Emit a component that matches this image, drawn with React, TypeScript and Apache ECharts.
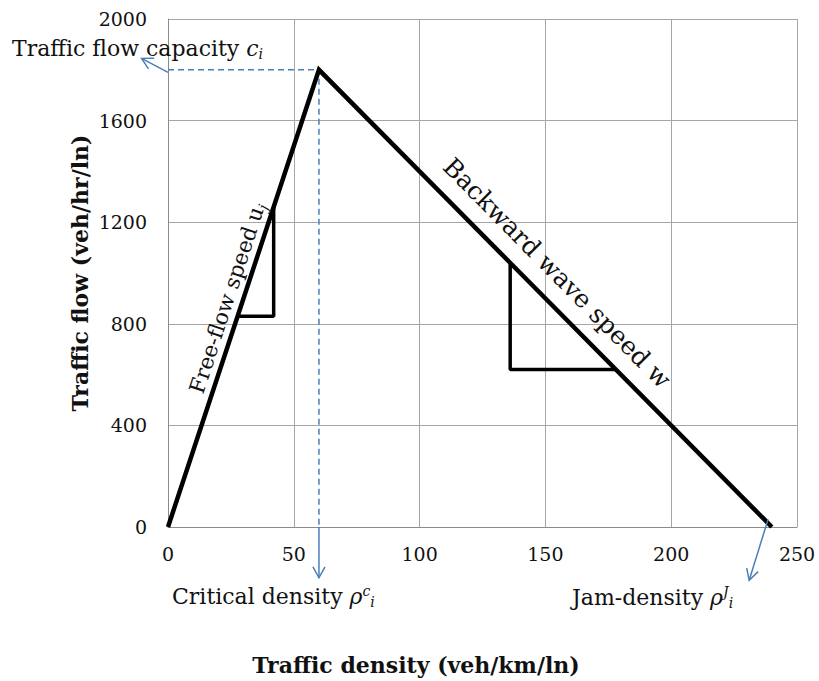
import React, { useEffect, useRef } from "react";
import * as echarts from "echarts";

// ---- data ----
const densityTicks = [0, 50, 100, 150, 200, 250];
const flowTicks = [0, 400, 800, 1200, 1600, 2000];

const fdDensity = [0, 60, 240];
const fdFlow = [0, 1800, 0];

const freeTriDensity = [42, 42, 28];
const freeTriFlow = [1260, 830, 830];

const backTriDensity = [136, 136, 178];
const backTriFlow = [1040, 620, 620];

const guideDensity = [0, 60, 60];
const guideFlow = [1800, 1800, 0];

// arrows: [fromDensity, fromFlow, toDensity, toFlow]
const capacityArrow = [0, 1790, -10.5, 1845];
const criticalArrow = [60, 0, 60, -200];
const jamArrow = [238.5, 30, 231, -210];

const FONT = "DejaVu Serif";
const BLUE = "#4a7ebb";

const zip = (xs: number[], ys: number[]) => xs.map((x, i) => [x, ys[i]]);

export default function App() {
  const ref = useRef<HTMLDivElement>(null);
  useEffect(() => {
    const chart = echarts.init(ref.current!, null, { renderer: "svg" });
    chart.setOption({
      animation: false,
      grid: { left: 168, right: 22, top: 19, bottom: 154 },
      xAxis: {
        type: "value",
        min: densityTicks[0],
        max: densityTicks[densityTicks.length - 1],
        interval: densityTicks[1] - densityTicks[0],
        axisLine: { show: true, lineStyle: { color: "#8c8c8c", width: 1 } },
        axisTick: { show: false },
        axisLabel: { color: "#111", fontFamily: FONT, fontSize: 19, margin: 17, formatter: (v: number) => String(v) },
        splitLine: { show: true, lineStyle: { color: "#a6a6a6", width: 1 } },
      },
      yAxis: {
        type: "value",
        min: flowTicks[0],
        max: flowTicks[flowTicks.length - 1],
        interval: flowTicks[1] - flowTicks[0],
        axisLine: { show: true, lineStyle: { color: "#8c8c8c", width: 1 } },
        axisTick: { show: false },
        axisLabel: { color: "#111", fontFamily: FONT, fontSize: 19, margin: 21, formatter: (v: number) => String(v) },
        splitLine: { show: true, lineStyle: { color: "#a6a6a6", width: 1 } },
      },
      series: [
        {
          type: "line",
          data: zip(guideDensity, guideFlow),
          symbol: "none",
          clip: false,
          lineStyle: { color: BLUE, width: 1.5, type: [6, 4] },
          z: 1,
        },
        {
          type: "line",
          data: zip(fdDensity, fdFlow),
          symbol: "none",
          lineStyle: { color: "#000", width: 4.5, join: "miter" },
          z: 3,
        },
        {
          type: "line",
          data: zip(freeTriDensity, freeTriFlow),
          symbol: "none",
          lineStyle: { color: "#000", width: 3.5 },
          z: 3,
        },
        {
          type: "line",
          data: zip(backTriDensity, backTriFlow),
          symbol: "none",
          lineStyle: { color: "#000", width: 3.5 },
          z: 3,
        },
      ],
    });

    const toPx = (p: number[]) => chart.convertToPixel({ gridIndex: 0 }, p) as number[];
    const arrowEls = [capacityArrow, criticalArrow, jamArrow].flatMap((a) => {
      const s = toPx([a[0], a[1]]);
      const e = toPx([a[2], a[3]]);
      const dx = e[0] - s[0];
      const dy = e[1] - s[1];
      const len = Math.hypot(dx, dy);
      const ux = dx / len;
      const uy = dy / len;
      const px = -uy;
      const py = ux;
      const hl = 11;
      const hw = 6;
      const l = [e[0] - ux * hl + px * hw, e[1] - uy * hl + py * hw];
      const r = [e[0] - ux * hl - px * hw, e[1] - uy * hl - py * hw];
      return [
        {
          type: "line",
          shape: { x1: s[0], y1: s[1], x2: e[0], y2: e[1] },
          style: { stroke: BLUE, lineWidth: 1.5 },
          z: 10,
        },
        {
          type: "polyline",
          shape: { points: [l, e, r] },
          style: { stroke: BLUE, lineWidth: 1.5, fill: null },
          z: 10,
        },
      ];
    });

    const txt = (extra: any) => ({
      type: "text",
      z: 20,
      ...extra,
      style: {
        fill: "#111",
        fontFamily: FONT,
        fontSize: 22,
        ...extra.style,
      },
    });

    const richSub = {
      it: { fontFamily: FONT, fontSize: 22, fontStyle: "italic", fill: "#111" },
      sup: { fontFamily: FONT, fontSize: 14, fontStyle: "italic", fill: "#111", padding: [0, 0, 11, 0] },
      sub: { fontFamily: FONT, fontSize: 14, fontStyle: "italic", fill: "#111", padding: [12, 0, 0, 0] },
    };

    chart.setOption({
      graphic: [
        ...arrowEls,
        txt({
          x: 12,
          y: 48,
          style: {
            text: "Traffic flow capacity {it|c}{sub|i}",
            verticalAlign: "middle",
            align: "left",
            rich: richSub,
          },
        }),
        txt({
          x: 172,
          y: 596,
          style: {
            text: "Critical density {it|ρ}{sup|c}{sub|i}",
            verticalAlign: "middle",
            align: "left",
            rich: richSub,
          },
        }),
        txt({
          x: 572,
          y: 597,
          style: {
            text: "Jam-density {it|ρ}{sup|J}{sub|i}",
            verticalAlign: "middle",
            align: "left",
            rich: richSub,
          },
        }),
        txt({
          x: 416,
          y: 665,
          style: {
            text: "Traffic density (veh/km/ln)",
            fontWeight: "bold",
            fontSize: 22,
            align: "center",
            verticalAlign: "middle",
          },
        }),
        txt({
          x: 80,
          y: 273,
          rotation: Math.PI / 2,
          style: {
            text: "Traffic flow (veh/hr/ln)",
            fontWeight: "bold",
            fontSize: 22,
            align: "center",
            verticalAlign: "middle",
          },
        }),
        txt({
          x: 227,
          y: 298,
          rotation: (71.8 * Math.PI) / 180,
          style: {
            text: "Free-flow speed u{sub|j}",
            fontSize: 21.5,
            align: "center",
            verticalAlign: "middle",
            rich: { sub: { ...richSub.sub, fontSize: 14 } },
          },
        }),
        txt({
          x: 557,
          y: 273,
          rotation: (-45.3 * Math.PI) / 180,
          style: {
            text: "Backward wave speed w",
            fontSize: 25,
            align: "center",
            verticalAlign: "middle",
          },
        }),
      ],
    });

    return () => chart.dispose();
  }, []);

  return (
    <div
      ref={ref}
      style={{ position: "fixed", left: 0, top: 0, width: 819, height: 681, background: "#fff" }}
    />
  );
}
